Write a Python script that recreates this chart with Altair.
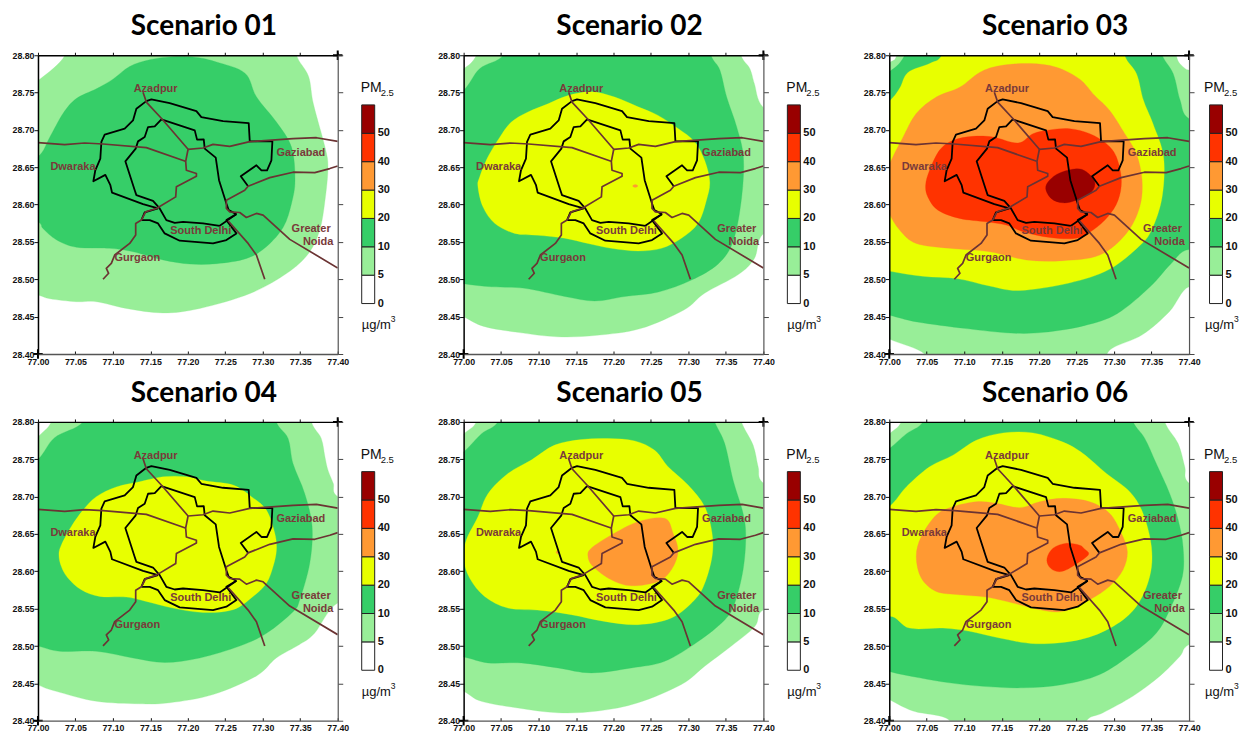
import altair as alt
import pandas as pd

TITLES = ["Scenario 01", "Scenario 02", "Scenario 03", "Scenario 04", "Scenario 05", "Scenario 06"]
LEVEL_COLORS = {5: "#98EE98", 10: "#36CE68", 20: "#E8FF00", 30: "#FF9933", 40: "#FF3300", 50: "#990000"}
X_TICKS = [77.00, 77.05, 77.10, 77.15, 77.20, 77.25, 77.30, 77.35, 77.40]
Y_TICKS = [28.40, 28.45, 28.50, 28.55, 28.60, 28.65, 28.70, 28.75, 28.80]

# ---------- contours (lon, lat) ----------
S1_5 = [(76.96,28.74),(77.0,28.766),(77.036,28.80),(77.04,28.84),(77.34,28.84),(77.345,28.80),(77.361,28.772),(77.3675,28.735),(77.383,28.677),(77.387,28.65),(77.383,28.6055),(77.376,28.566),(77.361,28.5345),(77.332,28.508),(77.283,28.481),(77.216,28.461),(77.167,28.455),(77.118,28.461),(77.078,28.47),(77.051,28.47),(77.016,28.474),(77.0,28.479),(76.96,28.49)]
S1_10 = [(77.0,28.664),(77.0156,28.690),(77.0334,28.722),(77.0512,28.742),(77.0779,28.755),(77.1001,28.768),(77.1224,28.785),(77.1492,28.794),(77.1802,28.798),(77.2114,28.797),(77.2381,28.791),(77.2762,28.776),(77.2917,28.744),(77.3182,28.7105),(77.3383,28.677),(77.343,28.633),(77.3383,28.6015),(77.3274,28.570),(77.3051,28.544),(77.2784,28.528),(77.2383,28.521),(77.2027,28.5205),(77.167,28.526),(77.1269,28.537),(77.0958,28.5415),(77.0512,28.543),(77.0245,28.553),(77.0067,28.568),(77.0,28.577),(76.96,28.60),(76.96,28.64)]

S2_5 = [(76.96,28.76),(77,28.782),(77.017,28.80),(77.03,28.84),(77.36,28.84),(77.37,28.80),(77.382,28.782),(77.388,28.762),(77.399,28.731),(77.44,28.70),(77.44,28.58),(77.399,28.56),(77.388,28.528),(77.366,28.506),(77.321,28.481),(77.294,28.459),(77.236,28.434),(77.178,28.425),(77.125,28.423),(77.072,28.429),(77.027,28.437),(77,28.45),(76.96,28.47)]
S2_10 = [(76.96,28.72),(77,28.753),(77.0214,28.782),(77.0526,28.80),(77.06,28.84),(77.32,28.84),(77.33,28.80),(77.342,28.78),(77.351,28.744),(77.3644,28.704),(77.3733,28.664),(77.371,28.61),(77.36,28.552),(77.34,28.521),(77.304,28.499),(77.26,28.483),(77.215,28.477),(77.175,28.471),(77.135,28.477),(77.0815,28.488),(77.037,28.49),(77,28.494),(76.96,28.50)]
S2_20 = [(77.0191,28.624),(77.0214,28.637),(77.0325,28.664),(77.0481,28.69),(77.0636,28.7105),(77.0859,28.724),(77.1126,28.735),(77.1393,28.746),(77.1704,28.751),(77.2016,28.744),(77.2327,28.731),(77.2594,28.7195),(77.2861,28.702),(77.3084,28.684),(77.3217,28.659),(77.3284,28.6305),(77.3240,28.606),(77.3128,28.575),(77.2906,28.555),(77.2639,28.5415),(77.2327,28.538),(77.1971,28.5415),(77.166,28.548),(77.1348,28.555),(77.0992,28.559),(77.0681,28.5615),(77.0414,28.575),(77.0258,28.597)]
S2_30 = [(77.2255,28.625),(77.229,28.627),(77.2325,28.625),(77.229,28.623)]

S3_5 = [(76.96,28.77),(77,28.79),(77.01,28.80),(77.02,28.84),(77.38,28.84),(77.383,28.80),(77.395,28.782),(77.44,28.75),(77.44,28.48),(77.4,28.49),(77.374,28.457),(77.338,28.426),(77.298,28.408),(77.278,28.39),(77.2,28.36),(77.05,28.37),(77.047,28.40),(77.0,28.42),(76.96,28.44)]
S3_10 = [(76.96,28.76),(77,28.778),(77.0205,28.80),(77.03,28.84),(77.35,28.84),(77.364,28.80),(77.379,28.775),(77.388,28.74),(77.40,28.715),(77.45,28.70),(77.45,28.53),(77.40,28.54),(77.375,28.52),(77.348,28.49),(77.304,28.454),(77.26,28.438),(77.206,28.429),(77.162,28.428),(77.103,28.434),(77.037,28.443),(77,28.452),(76.96,28.46)]
S3_20 = [(76.96,28.70),(77,28.738),(77.014,28.756),(77.025,28.777),(77.054,28.789),(77.07,28.80),(77.08,28.84),(77.31,28.84),(77.314,28.80),(77.33,28.775),(77.339,28.74),(77.352,28.708),(77.366,28.664),(77.364,28.61),(77.35,28.566),(77.333,28.544),(77.293,28.513),(77.24,28.495),(77.174,28.485),(77.134,28.491),(77.09,28.501),(77.045,28.504),(77,28.511),(76.96,28.52)]
S3_30 = [(77.0049,28.664),(77.0182,28.69),(77.036,28.722),(77.0627,28.744),(77.0939,28.757),(77.1206,28.777),(77.1473,28.786),(77.1873,28.789),(77.2229,28.784),(77.2541,28.768),(77.2741,28.746),(77.2941,28.726),(77.3142,28.695),(77.3297,28.668),(77.3373,28.633),(77.3342,28.597),(77.3164,28.5615),(77.2808,28.5325),(77.2318,28.525),(77.1829,28.526),(77.1339,28.537),(77.0805,28.5415),(77.036,28.548),(77.0138,28.566),(77.0,28.588),(76.994,28.606),(76.994,28.637)]
S3_40 = [(77.0485,28.626),(77.0538,28.646),(77.0672,28.673),(77.085,28.686),(77.1117,28.6914),(77.1384,28.6905),(77.1718,28.6825),(77.1918,28.695),(77.2141,28.70),(77.2407,28.7017),(77.2674,28.695),(77.2897,28.6816),(77.303,28.664),(77.3097,28.633),(77.3053,28.606),(77.2919,28.584),(77.2719,28.566),(77.2496,28.555),(77.214,28.556),(77.1784,28.5637),(77.1562,28.5726),(77.1295,28.577),(77.0939,28.5815),(77.065,28.5926),(77.0516,28.61)]
S3_50 = [(77.2087,28.6216),(77.214,28.633),(77.2274,28.6425),(77.2496,28.648),(77.263,28.644),(77.2741,28.6305),(77.2697,28.617),(77.2496,28.606),(77.2318,28.6024),(77.2163,28.608)]

S4_5 = [(76.96,28.74),(77,28.78),(77.0178,28.80),(77.03,28.84),(77.36,28.84),(77.365,28.80),(77.378,28.778),(77.383,28.753),(77.387,28.7355),(77.394,28.718),(77.40,28.70),(77.45,28.68),(77.45,28.56),(77.40,28.5575),(77.369,28.517),(77.349,28.502),(77.318,28.484),(77.2915,28.46),(77.2336,28.435),(77.1758,28.424),(77.1357,28.4226),(77.0779,28.426),(77.0289,28.438),(77,28.448),(76.96,28.47)]
S4_10 = [(76.96,28.72),(77,28.75),(77.0222,28.779),(77.06,28.80),(77.07,28.84),(77.31,28.84),(77.318,28.80),(77.3337,28.778),(77.3404,28.744),(77.356,28.704),(77.3658,28.66),(77.3627,28.611),(77.3493,28.562),(77.3404,28.546),(77.3048,28.517),(77.2692,28.50),(77.2158,28.484),(77.1691,28.478),(77.1268,28.484),(77.0779,28.493),(77.0289,28.493),(77,28.50),(76.96,28.51)]
S4_20 = [(77.028,28.622),(77.0312,28.6354),(77.0445,28.66),(77.0601,28.682),(77.0779,28.70),(77.1046,28.713),(77.1357,28.72),(77.1669,28.7266),(77.198,28.7266),(77.2247,28.7208),(77.2603,28.7155),(77.2848,28.70),(77.3048,28.682),(77.316,28.651),(77.3182,28.6287),(77.3137,28.6064),(77.3048,28.584),(77.287,28.5664),(77.2603,28.5486),(77.2203,28.545),(77.1802,28.5508),(77.1446,28.5597),(77.1179,28.5655),(77.0823,28.5664),(77.0578,28.5753),(77.04,28.591),(77.0312,28.6064)]

S5_5 = [(76.96,28.75),(77,28.784),(77.017,28.80),(77.03,28.84),(77.36,28.84),(77.3707,28.80),(77.3863,28.769),(77.393,28.74),(77.40,28.718),(77.45,28.69),(77.45,28.56),(77.40,28.5486),(77.3885,28.526),(77.3573,28.50),(77.3217,28.473),(77.2906,28.4485),(77.2327,28.424),(77.1793,28.413),(77.1259,28.4106),(77.0725,28.417),(77.0236,28.426),(77,28.4396),(76.96,28.46)]
S5_10 = [(76.96,28.73),(77,28.76),(77.0236,28.784),(77.0458,28.80),(77.06,28.84),(77.32,28.84),(77.335,28.80),(77.3484,28.771),(77.3596,28.722),(77.3729,28.6776),(77.3765,28.6465),(77.3729,28.602),(77.3618,28.5575),(77.3484,28.535),(77.3128,28.506),(77.2683,28.4796),(77.2238,28.4707),(77.1704,28.464),(77.1259,28.4707),(77.077,28.4774),(77.0325,28.4774),(77,28.4854),(76.96,28.49)]
S5_20 = [(77.0,28.6176),(77.0036,28.642),(77.0191,28.673),(77.0325,28.704),(77.0592,28.731),(77.0903,28.749),(77.1215,28.769),(77.1571,28.7764),(77.1927,28.7778),(77.2283,28.7746),(77.255,28.762),(77.2728,28.74),(77.2995,28.7155),(77.3217,28.6865),(77.3315,28.651),(77.3315,28.62),(77.3217,28.584),(77.3084,28.562),(77.2772,28.5375),(77.2327,28.5286),(77.1882,28.533),(77.1437,28.542),(77.1037,28.5477),(77.0592,28.5508),(77.028,28.5664),(77.008,28.591)]
S5_30 = [(77.166,28.62),(77.1704,28.631),(77.1971,28.6487),(77.2327,28.6665),(77.2683,28.671),(77.2795,28.651),(77.2861,28.6265),(77.2772,28.602),(77.2594,28.5864),(77.2238,28.5806),(77.1971,28.5886),(77.1727,28.6064)]
S5_30B = [(77.1235,28.6256),(77.125,28.6275),(77.1265,28.6256),(77.125,28.6237)]

S6_5 = [(76.96,28.75),(77,28.784),(77.016,28.80),(77.03,28.84),(77.36,28.84),(77.3676,28.80),(77.3854,28.771),(77.3943,28.74),(77.40,28.718),(77.45,28.69),(77.45,28.52),(77.40,28.5019),(77.3876,28.486),(77.3609,28.4596),(77.3253,28.433),(77.2852,28.4106),(77.263,28.40),(77.24,28.36),(77.07,28.36),(77.0805,28.40),(77.0316,28.413),(77,28.4284),(76.96,28.45)]
S6_10 = [(76.96,28.73),(77,28.764),(77.0227,28.784),(77.045,28.80),(77.06,28.84),(77.31,28.84),(77.3253,28.80),(77.3409,28.778),(77.3564,28.744),(77.3742,28.704),(77.3854,28.669),(77.392,28.633),(77.3911,28.593),(77.3742,28.5486),(77.3564,28.5174),(77.3253,28.4907),(77.2808,28.4618),(77.2318,28.4485),(77.1785,28.444),(77.125,28.446),(77.0805,28.4507),(77.0405,28.4574),(77,28.466),(76.96,28.48)]
S6_20 = [(76.96,28.66),(77,28.6865),(77.0227,28.713),(77.0538,28.74),(77.085,28.7555),(77.1161,28.7755),(77.1517,28.7853),(77.1918,28.7853),(77.2318,28.773),(77.2585,28.7577),(77.2897,28.731),(77.3208,28.7066),(77.3386,28.6776),(77.3498,28.633),(77.3475,28.593),(77.3297,28.553),(77.2986,28.5263),(77.2541,28.5085),(77.1962,28.503),(77.1473,28.5107),(77.1072,28.5197),(77.0716,28.524),(77.0271,28.524),(77,28.54),(76.96,28.52)]
S6_30 = [(77.036,28.62),(77.0427,28.6465),(77.0627,28.6754),(77.085,28.6865),(77.1161,28.6932),(77.1428,28.691),(77.174,28.6852),(77.2007,28.6932),(77.2318,28.6977),(77.2674,28.6932),(77.2941,28.6776),(77.3097,28.651),(77.3177,28.6265),(77.3119,28.602),(77.2941,28.58),(77.2674,28.562),(77.2318,28.5464),(77.2007,28.5486),(77.1651,28.5575),(77.1295,28.5655),(77.0939,28.5686),(77.0627,28.573),(77.0427,28.591)]
S6_40 = [(77.2105,28.6176),(77.2185,28.631),(77.2363,28.6376),(77.2541,28.635),(77.2608,28.6296),(77.2661,28.6243),(77.2608,28.6176),(77.2363,28.602),(77.223,28.60),(77.2132,28.6064)]

SCENARIOS = [
    [(5,S1_5),(10,S1_10)],
    [(5,S2_5),(10,S2_10),(20,S2_20),(30,S2_30)],
    [(5,S3_5),(10,S3_10),(20,S3_20),(30,S3_30),(40,S3_40),(50,S3_50)],
    [(5,S4_5),(10,S4_10),(20,S4_20)],
    [(5,S5_5),(10,S5_10),(20,S5_20),(30,S5_30),(30,S5_30B)],
    [(5,S6_5),(10,S6_10),(20,S6_20),(30,S6_30),(40,S6_40)],
]

# ---------- roads ----------
RING_WEST = [(77.1446,28.7386),(77.1313,28.7284),(77.1268,28.7128),(77.1157,28.7017),(77.089,28.6936),(77.0846,28.6839),(77.0832,28.6616),(77.0765,28.646),(77.0739,28.6313),(77.0899,28.6398),(77.0966,28.626),(77.0988,28.6162),(77.1402,28.6006),(77.1602,28.5949)]
RING_NORTH = [(77.1446,28.7386),(77.1513,28.7408),(77.1758,28.7359),(77.2114,28.7252),(77.218,28.7172),(77.247,28.7119),(77.2812,28.7092),(77.2826,28.6847),(77.3128,28.6847),(77.3115,28.6594),(77.3057,28.646),(77.2982,28.646),(77.2915,28.6527),(77.2706,28.638),(77.2804,28.6247)]
INNER_WEST = [(77.1647,28.7141),(77.1558,28.7048),(77.1469,28.7039),(77.1424,28.6905),(77.1335,28.6847),(77.1304,28.675),(77.1166,28.658),(77.1291,28.6193),(77.1313,28.6127),(77.1535,28.6051),(77.1624,28.5949),(77.1713,28.5793),(77.1825,28.5757),(77.1936,28.577),(77.2203,28.5748),(77.2425,28.5717),(77.2648,28.5873)]
INNER_EAST = [(77.1647,28.7141),(77.2092,28.6994),(77.2123,28.687),(77.2212,28.6874),(77.2225,28.675),(77.2372,28.6629),(77.2416,28.6327),(77.2514,28.6015),(77.2545,28.5926),(77.2648,28.5873)]
SOUTH_LOOP = [(77.138,28.5793),(77.1491,28.5793),(77.1602,28.5748),(77.1691,28.5615),(77.1891,28.5517),(77.2336,28.5481),(77.2514,28.5526),(77.2648,28.5615),(77.2514,28.5793),(77.2648,28.5873)]
SOUTH_LINK = [(77.138,28.5793),(77.1424,28.5895),(77.1602,28.5949)]
BLACK_ROADS = [RING_WEST, RING_NORTH, INNER_WEST, INNER_EAST, SOUTH_LOOP, SOUTH_LINK]

ROAD_WEST = [(77.0,28.683),(77.0356,28.6803),(77.0623,28.6825),(77.0868,28.6812),(77.1446,28.6763),(77.1967,28.658)]
ROAD_AZADPUR = [(77.1402,28.7506),(77.1446,28.7373),(77.1655,28.7146),(77.2003,28.6741)]
ROAD_EAST = [(77.2003,28.6741),(77.2203,28.6758),(77.2336,28.6807),(77.2559,28.6781),(77.2826,28.6843),(77.3404,28.6883),(77.3716,28.6896),(77.40,28.6847)]
ROAD_GURGAON = [(77.2003,28.6741),(77.1971,28.658),(77.198,28.646),(77.2114,28.6416),(77.2114,28.638),(77.1847,28.6238),(77.1838,28.6104),(77.158,28.5949),(77.1437,28.5904),(77.138,28.5793),(77.1304,28.5748),(77.1304,28.5593),(77.1224,28.5481),(77.1024,28.5326),(77.0979,28.5214),(77.0912,28.5148),(77.0943,28.5081),(77.0868,28.5001)]
ROAD_NOIDA = [(77.40,28.6518),(77.3894,28.6483),(77.3694,28.6429),(77.3404,28.6434),(77.3093,28.6362),(77.2804,28.6247),(77.2759,28.6193),(77.2514,28.606),(77.2514,28.5949),(77.2559,28.5904),(77.2692,28.5895),(77.2781,28.5828),(77.2915,28.5882),(77.3004,28.586),(77.336,28.5535),(77.40,28.5152)]
ROAD_SOUTH = [(77.2537,28.5784),(77.2804,28.5481),(77.2915,28.5326),(77.3026,28.5001)]
BROWN_ROADS = [ROAD_WEST, ROAD_AZADPUR, ROAD_EAST, ROAD_GURGAON, ROAD_NOIDA, ROAD_SOUTH]

LABEL_TEXT = ["Azadpur", "Dwaraka", "Gaziabad", "South Delhi", "Greater", "Noida", "Gurgaon"]
LABEL_LON = [77.157, 77.0467, 77.3508, 77.2172, 77.3645, 77.3739, 77.1326]
LABEL_LAT = [28.755, 28.651, 28.6696, 28.5646, 28.5668, 28.5495, 28.528]

# ---------- legend ----------
LEGEND_COLORS = ["#FFFFFF", "#98EE98", "#36CE68", "#E8FF00", "#FF9933", "#FF3300", "#990000"]
LEGEND_LABELS = ["0", "5", "10", "20", "30", "40", "50"]

AXIS_FONT = "Liberation Sans"
W, H, LW, LW_LAST = 300, 299, 126, 49
xs = alt.Scale(domain=[77.0, 77.4], nice=False, zero=False)
ys = alt.Scale(domain=[28.4, 28.8], nice=False, zero=False)


def table(points):
    return pd.DataFrame({"lon": [p[0] for p in points], "lat": [p[1] for p in points], "i": range(len(points))})


def X(axis=None):
    return alt.X("lon:Q", scale=xs, axis=axis)


def Y(axis=None):
    return alt.Y("lat:Q", scale=ys, axis=axis)


def panel(n):
    layers = []
    for level, pts in SCENARIOS[n]:
        c = LEVEL_COLORS[level]
        layers.append(alt.Chart(table(pts)).mark_line(interpolate="cardinal-closed", fill=c, stroke=c, strokeWidth=0.3, clip=True)
                      .encode(x=X(), y=Y(), order=alt.Order("i:Q")))
    for road in BLACK_ROADS:
        layers.append(alt.Chart(table(road)).mark_line(color="#000000", strokeWidth=1.8, strokeJoin="round", clip=True)
                      .encode(x=X(), y=Y(), order=alt.Order("i:Q")))
    for road in BROWN_ROADS:
        layers.append(alt.Chart(table(road)).mark_line(color="#6B3333", strokeWidth=1.7, strokeJoin="round", clip=True)
                      .encode(x=X(), y=Y(), order=alt.Order("i:Q")))
    labels = pd.DataFrame({"lon": LABEL_LON, "lat": LABEL_LAT, "t": LABEL_TEXT})
    layers.append(alt.Chart(labels).mark_text(font=AXIS_FONT, fontWeight="bold", fontSize=11, color="#7A3A3A")
                  .encode(x=X(), y=Y(), text="t:N"))
    corners = pd.DataFrame({"lon": [77.0, 77.4], "lat": [28.4, 28.8]})
    ax_b = alt.Chart(corners).mark_point(shape="M-1,0L1,0M0,-1L0,1", filled=False, size=90, strokeWidth=2, color="#000000", opacity=1).encode(
        x=X(alt.Axis(orient="bottom", values=X_TICKS, grid=False, title=None, zindex=1, format=".2f", labelFont=AXIS_FONT,
                     labelFontWeight="bold", labelFontSize=8.8, labelColor="#111111", ticks=False, labelPadding=3,
                     domainColor="#555555", domainWidth=1.3, labelOverlap=False, labelFlush=False)),
        y=Y(alt.Axis(orient="left", values=Y_TICKS, grid=False, title=None, zindex=1, format=".2f", labelFont=AXIS_FONT,
                     labelFontWeight="bold", labelFontSize=8.8, labelColor="#111111", tickColor="#111111", tickSize=4,
                     tickWidth=1, labelPadding=0, domainColor="#000000", domainWidth=1.5, labelOverlap=False, labelFlush=False)))
    ax_t = alt.Chart(corners).mark_point(opacity=0).encode(
        x=X(alt.Axis(orient="top", values=X_TICKS, grid=False, title=None, zindex=1, labels=False, tickSize=3,
                     tickColor="#111111", domainColor="#000000", domainWidth=1.3)),
        y=Y(alt.Axis(orient="right", values=Y_TICKS, grid=False, title=None, zindex=1, labels=False, tickSize=5,
                     tickColor="#444444", domainColor="#555555", domainWidth=1.2)))
    ax_i = alt.Chart(corners).mark_point(opacity=0).encode(
        x=X(alt.Axis(orient="top", offset=-H, values=X_TICKS, grid=False, title=None, zindex=1, labels=False,
                     tickSize=3, tickColor="#111111", domain=False)),
        y=Y())
    layers += [ax_t, ax_i, ax_b]
    title = alt.Chart(pd.DataFrame({"t": [TITLES[n]]})).mark_text(
        font="Lato", fontWeight="bold", fontSize=28, color="#000000", align="center", baseline="middle"
    ).encode(x=alt.value(166), y=alt.value(-28), text="t:N")
    layers.append(title)
    return alt.layer(*layers).properties(width=W, height=H)


def legend(width, bar_shift, note_shift):
    ly = alt.Scale(domain=[-1.778, 8.75], nice=False, zero=False)
    rects = pd.DataFrame({"lo": range(7), "hi": range(1, 8), "c": LEGEND_COLORS})
    bars = alt.Chart(rects).mark_rect(stroke="#222222", strokeWidth=1).encode(
        x=alt.value(24 - bar_shift), x2=alt.value(37 - bar_shift),
        y=alt.Y("lo:Q", scale=ly, axis=None), y2="hi:Q",
        fill=alt.Fill("c:N", scale=None))
    labs = pd.DataFrame({"v": range(7), "t": LEGEND_LABELS})
    texts = alt.Chart(labs).mark_text(font=AXIS_FONT, fontWeight="bold", fontSize=11, color="#111111", align="left").encode(
        x=alt.value(40 - bar_shift), y=alt.Y("v:Q", scale=ly, axis=None), text="t:N")

    def note(t, x, y, size):
        return alt.Chart(pd.DataFrame({"t": [t]})).mark_text(font=AXIS_FONT, fontSize=size, color="#111111", align="left").encode(
            x=alt.value(x - note_shift), y=alt.value(y), text="t:N")

    return alt.layer(bars, texts, note("PM", 23, 33, 14), note("2.5", 43, 38, 9.5), note("\u00b5g/m", 24, 270, 13),
                     note("3", 53, 264, 8.5)).properties(width=width, height=H)


charts = []
for n in range(6):
    if n % 3 == 2:
        charts += [panel(n), legend(LW_LAST, 3.5, 8)]
    else:
        charts += [panel(n), legend(LW, 0, 0)]

chart = alt.concat(*charts, columns=6, spacing=alt.RowColnumber(column=0, row=68), bounds="flush").properties(
    padding={"left": 3, "top": 5, "right": 0, "bottom": 0}).configure_view(stroke=None)

chart.save("out.html", embed_options={"renderer": "svg", "actions": False})
